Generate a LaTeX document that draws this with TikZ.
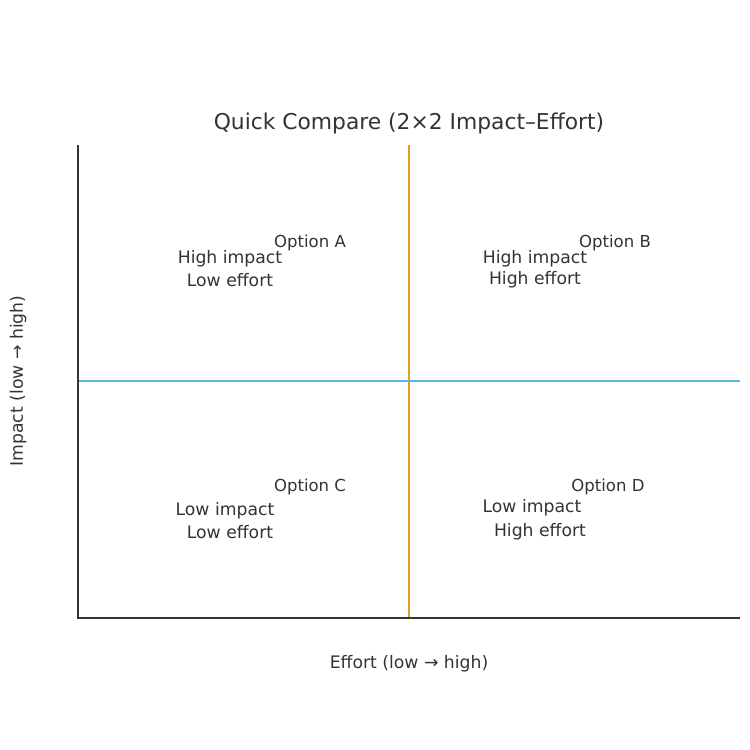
\documentclass[tikz,border=0pt]{standalone}
\usepackage{fontspec}
\setmainfont{DejaVu Sans}
\definecolor{txt}{HTML}{333333}
\definecolor{vline}{HTML}{E0A020}
\definecolor{hline}{HTML}{5BB5E0}
\begin{document}
\begin{tikzpicture}[x=0.01cm,y=-0.01cm,
  lbl/.style={text=txt,font=\fontsize{4.9pt}{5.5pt}\selectfont,inner sep=0},
  opt/.style={text=txt,font=\fontsize{4.7pt}{5pt}\selectfont,inner sep=0}]
\useasboundingbox (0,0) rectangle (750,750);
\coordinate (tl) at (78,145); \coordinate (bl) at (78,618); \coordinate (br) at (740,618);
\coordinate (vt) at (409,145); \coordinate (vb) at (409,618);
\coordinate (hl) at (78,381); \coordinate (hr) at (740,381);
\draw[vline,line width=0.4pt] (vt) -- (vb);
\draw[hline,line width=0.4pt] (hl) -- (hr);
\draw[txt,line width=0.4pt] (tl) -- (bl) -- (br);
\node[text=txt,font=\fontsize{6.2pt}{6.8pt}\selectfont,inner sep=0] (title) at (409,123) {Quick Compare (2×2 Impact–Effort)};
\node[lbl] (xl) at (409,664) {Effort (low → high)};
\node[lbl,rotate=90] (yl) at (18,381) {Impact (low → high)};
\node[opt] (oa) at (310,243) {Option A};
\node[lbl] (a1) at (230,259) {High impact};
\node[lbl] (a2) at (230,280) {Low effort};
\node[opt] (ob) at (615,243) {Option B};
\node[lbl] (b1) at (535,259) {High impact};
\node[lbl] (b2) at (535,280) {High effort};
\node[opt] (oc) at (310,487) {Option C};
\node[lbl] (c1) at (225,511) {Low impact};
\node[lbl] (c2) at (230,532) {Low effort};
\node[opt] (od) at (608,487) {Option D};
\node[lbl] (d1) at (532,508) {Low impact};
\node[lbl] (d2) at (540,532) {High effort};
\end{tikzpicture}
\end{document}
